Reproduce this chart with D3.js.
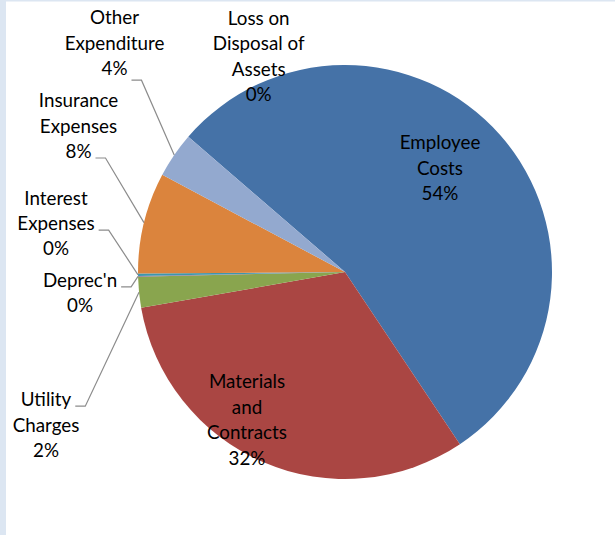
<!DOCTYPE html>
<html>
<head>
<meta charset="utf-8">
<script src="https://cdn.jsdelivr.net/npm/d3@7/dist/d3.min.js"></script>
<style>
  html, body { margin: 0; padding: 0; background: #fff; overflow: hidden; }
  text { font-family: Lato, "Open Sans", sans-serif; fill: #000; }
</style>
</head>
<body>
<svg id="chart" width="615" height="535"></svg>
<script>
// Expenditure categories, clockwise from the first slice
const categories = [
  "Employee Costs", "Materials and Contracts", "Utility Charges", "Deprec'n",
  "Interest Expenses", "Insurance Expenses", "Other Expenditure", "Loss on Disposal of Assets"
];
// How each category name wraps in its label
const labelLines = [
  ["Employee", "Costs"],
  ["Materials", "and", "Contracts"],
  ["Utility", "Charges"],
  ["Deprec'n"],
  ["Interest", "Expenses"],
  ["Insurance", "Expenses"],
  ["Other", "Expenditure"],
  ["Loss on", "Disposal of", "Assets"]
];
// Share of total expenditure (%)
const shares = [54.3, 31.6, 2.4, 0.05, 0.2, 7.9, 3.55, 0];
const colors = ["#4572A7", "#AA4643", "#89A54E", "#80699B", "#3D96AE", "#DB843D", "#93A9CF", "#A47D7C"];

const W = 615, H = 535;
const cx = 345, cy = 272, R = 207;
const fontSize = 18.8, lineH = 25.4;

// Label placement: block centre, and which line a leader line leaves from
const labelLayout = [
  { x: 440, y: 168 },
  { x: 247, y: 420 },
  { x: 46,  y: 425, leader: 0, dy: 0 },
  { x: 80,  y: 293, leader: 0, dy: 0 },
  { x: 56,  y: 223.5, leader: 1, dy: 0 },
  { x: 78.5, y: 126, leader: 2, dy: 0 },
  { x: 114.5, y: 43.2, leader: 2, dy: 5 },
  { x: 258.7, y: 56.5 }
];

const svg = d3.select("#chart");
svg.append("rect").attr("width", W).attr("height", H).attr("fill", "#fff");
svg.append("rect").attr("x", 0).attr("y", 0).attr("width", 6).attr("height", H).attr("fill", "#DCE6F2");
svg.append("rect").attr("x", 0).attr("y", 0).attr("width", W).attr("height", 1.5).attr("fill", "#DCE6F2");

const data = categories.map((c, i) => ({ name: c, value: shares[i], color: colors[i], lines: labelLines[i], layout: labelLayout[i] }));
const total = d3.sum(shares);

const startAngle = -49.2 * Math.PI / 180;
const pie = d3.pie().sort(null).value(d => d.value)
  .startAngle(startAngle).endAngle(startAngle + 2 * Math.PI);
const arcs = pie(data);

const arc = d3.arc().innerRadius(0).outerRadius(R);
const rim = d3.arc().innerRadius(R).outerRadius(R);

const g = svg.append("g").attr("transform", `translate(${cx},${cy})`);
g.selectAll("path.slice").data(arcs).join("path")
  .attr("class", "slice")
  .attr("d", arc)
  .attr("fill", d => d.data.color);

// Labels
const labels = svg.append("g");
arcs.forEach(a => {
  const d = a.data, L = d.layout;
  const lines = d.lines.concat([d3.format(".0%")(d.value / total)]);
  const n = lines.length;
  const t = labels.append("text")
    .attr("text-anchor", "middle")
    .attr("font-size", fontSize);
  const spans = lines.map((s, i) => t.append("tspan")
    .attr("x", L.x)
    .attr("y", L.y + (i - (n - 1) / 2) * lineH)
    .attr("dy", "0.35em")
    .text(s));

  if (L.leader !== undefined) {
    const sp = spans[L.leader].node();
    const w = sp.getComputedTextLength();
    const baseY = L.y + (L.leader - (n - 1) / 2) * lineH + fontSize * 0.35 + L.dy;
    const x0 = L.x + w / 2 + 4;
    const [ex, ey] = rim.centroid(a);
    const pts = [[x0, baseY], [x0 + 10, baseY], [cx + ex, cy + ey]];
    svg.append("path")
      .attr("d", d3.line()(pts))
      .attr("fill", "none")
      .attr("stroke", "#8C8C8C")
      .attr("stroke-width", 1.2);
  }
});
</script>
</body>
</html>
